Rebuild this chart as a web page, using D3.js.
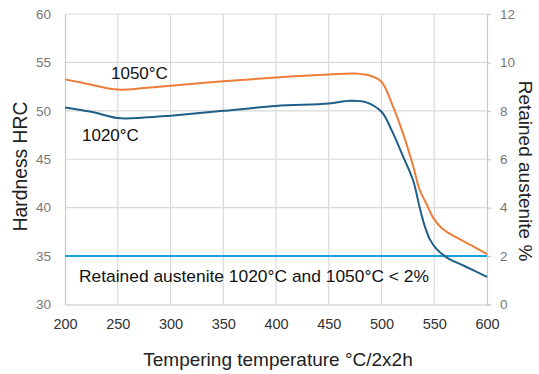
<!DOCTYPE html>
<html>
<head>
<meta charset="utf-8">
<script src="https://cdn.jsdelivr.net/npm/d3@7"></script>
<style>
  body { margin: 0; background: #fff; }
  svg { font-family: "Liberation Sans", Arial, sans-serif; }
</style>
</head>
<body>
<svg id="chart" width="539" height="374"></svg>
<script>
// data
var temps1050 = [200, 225, 250, 275, 300, 350, 400, 450, 475, 490, 500, 510, 520, 530, 536, 543, 549, 558, 574, 587, 600];
var hrc1050   = [53.25, 52.7, 52.2, 52.35, 52.6, 53.05, 53.45, 53.75, 53.85, 53.6, 53.0, 50.7, 47.8, 44.3, 41.9, 40.3, 38.95, 37.8, 36.75, 36.0, 35.2];

var temps1020 = [200, 225, 250, 275, 300, 350, 400, 450, 470, 485, 500, 510, 520, 530, 536, 541, 546, 552, 562, 580, 600];
var hrc1020   = [50.35, 49.9, 49.25, 49.3, 49.5, 50.0, 50.5, 50.75, 51.05, 50.9, 49.9, 47.9, 45.4, 42.8, 40.1, 38.1, 36.7, 35.75, 34.85, 33.9, 32.85];

var austeniteLimit = 2; // retained austenite %, right axis

var xTicks = [200, 250, 300, 350, 400, 450, 500, 550, 600];
var leftTicks = [30, 35, 40, 45, 50, 55, 60];
var rightTicks = [0, 2, 4, 6, 8, 10, 12];

var svg = d3.select("#chart");
var margin = {top: 14, right: 52, bottom: 69, left: 65};

var x = d3.scaleLinear().domain([200, 600]).range([margin.left, 487]);
var yL = d3.scaleLinear().domain([30, 60]).range([304.5, margin.top]);
var yR = d3.scaleLinear().domain([0, 12]).range([304.5, margin.top]);

// grid
var grid = svg.append("g");
grid.selectAll("line.v").data(xTicks.slice(1, -1)).join("line")
  .attr("x1", d => x(d)).attr("x2", d => x(d))
  .attr("y1", yL(60)).attr("y2", yL(30))
  .attr("stroke", "#d9d9d9").attr("stroke-width", 1.2);
grid.selectAll("line.h").data(leftTicks.slice(1)).join("line")
  .attr("x1", x(200)).attr("x2", x(600))
  .attr("y1", d => yL(d)).attr("y2", d => yL(d))
  .attr("stroke", "#d9d9d9").attr("stroke-width", 1.2);

// axes
var xAxis = svg.append("g")
  .attr("transform", "translate(0," + yL(30) + ")")
  .call(d3.axisBottom(x).tickValues(xTicks).tickSize(0).tickPadding(14));
xAxis.selectAll("text").attr("font-size", 14.5).attr("fill", "#333").attr("font-family", "Liberation Sans, Arial, sans-serif");

var leftAxis = svg.append("g")
  .attr("transform", "translate(" + x(200) + ",0)")
  .call(d3.axisLeft(yL).tickValues(leftTicks).tickSize(0).tickPadding(14));
leftAxis.selectAll("text").attr("font-size", 13.5).attr("fill", "#777").attr("font-family", "Liberation Sans, Arial, sans-serif");

var rightAxis = svg.append("g")
  .attr("transform", "translate(" + x(600) + ",0)")
  .call(d3.axisRight(yR).tickValues(rightTicks).tickSize(4).tickPadding(9));
rightAxis.selectAll("text").attr("font-size", 13.5).attr("fill", "#777").attr("font-family", "Liberation Sans, Arial, sans-serif");

[xAxis, leftAxis, rightAxis].forEach(function(a) {
  a.select(".domain").attr("stroke", "#c8c8c8").attr("stroke-width", 1.2);
  a.selectAll(".tick line").attr("stroke", "#c8c8c8").attr("stroke-width", 1.2);
});

// 2% retained austenite line
svg.append("line")
  .attr("x1", x(200)).attr("x2", x(600))
  .attr("y1", yR(austeniteLimit)).attr("y2", yR(austeniteLimit))
  .attr("stroke", "#1aa0dc").attr("stroke-width", 2);

// curves
var line = d3.line()
  .x(d => x(d[0])).y(d => yL(d[1]))
  .curve(d3.curveCatmullRom.alpha(0.5));

svg.append("path")
  .datum(d3.zip(temps1020, hrc1020))
  .attr("d", line)
  .attr("fill", "none").attr("stroke", "#1f5f87").attr("stroke-width", 2);

svg.append("path")
  .datum(d3.zip(temps1050, hrc1050))
  .attr("d", line)
  .attr("fill", "none").attr("stroke", "#ee7d3a").attr("stroke-width", 2);

// labels
svg.append("text").attr("x", 111).attr("y", 79)
  .attr("font-size", 17).attr("fill", "#111").text("1050°C");
svg.append("text").attr("x", 82).attr("y", 141)
  .attr("font-size", 17).attr("fill", "#111").text("1020°C");
svg.append("text").attr("x", 79).attr("y", 281.5)
  .attr("font-size", 17.4).attr("fill", "#111")
  .text("Retained austenite 1020°C and 1050°C < 2%");

// axis titles
svg.append("text")
  .attr("transform", "translate(27,166.5) rotate(-90)")
  .attr("text-anchor", "middle").attr("font-size", 19.3).attr("fill", "#222")
  .text("Hardness HRC");
svg.append("text")
  .attr("transform", "translate(519,171) rotate(90)")
  .attr("text-anchor", "middle").attr("font-size", 19).attr("fill", "#222")
  .text("Retained austenite %");
svg.append("text")
  .attr("x", 278).attr("y", 366)
  .attr("text-anchor", "middle").attr("font-size", 19).attr("fill", "#222")
  .text("Tempering temperature °C/2x2h");
</script>
</body>
</html>
